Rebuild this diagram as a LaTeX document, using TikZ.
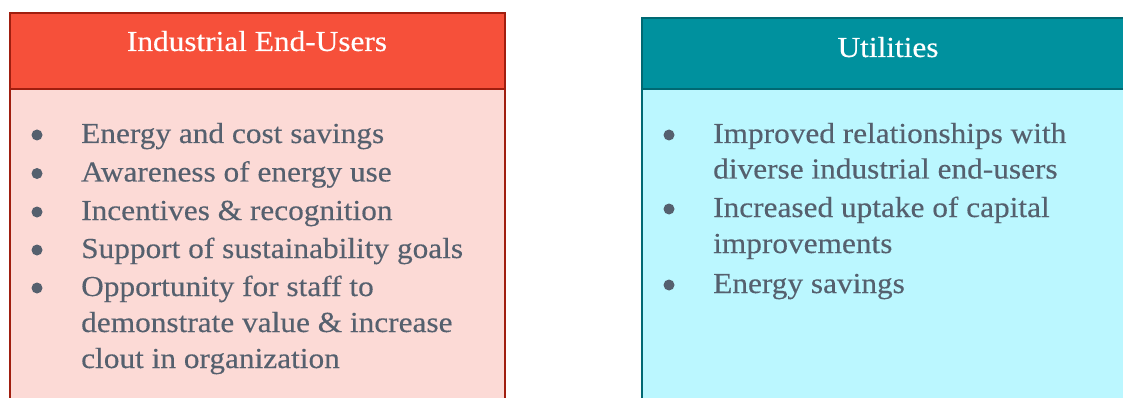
\documentclass[tikz,border=0pt]{standalone}
\usepackage{fontspec}
\setmainfont{Liberation Serif}[FakeStretch=1.08, FakeBold=0.3]
\definecolor{redhead}{RGB}{246,80,58}
\definecolor{redline}{RGB}{160,30,15}
\definecolor{redbody}{RGB}{252,218,214}
\definecolor{tealhead}{RGB}{0,145,158}
\definecolor{tealline}{RGB}{0,105,115}
\definecolor{tealbody}{RGB}{187,247,255}
\definecolor{txt}{RGB}{85,96,110}
\tikzset{
  boxpart/.style={draw, line width=2pt, anchor=north west, inner sep=0pt},
  headtxt/.style={text=white, anchor=base, inner sep=0pt, font=\fontsize{29}{34}\selectfont},
  item/.style={text=txt, anchor=base west, inner sep=0pt, font=\fontsize{29}{34}\selectfont},
  dot/.style={circle, fill=txt, inner sep=0pt, minimum size=11pt}
}
\begin{document}
\begin{tikzpicture}[x=1pt,y=-1pt]
\useasboundingbox (0,0) rectangle (1123,398);
\clip (0,0) rectangle (1123,398);
% left box
\node[boxpart, draw=redline, fill=redbody, minimum width=495pt, minimum height=330pt] (lbody) at (9,88) {};
\node[boxpart, draw=redline, fill=redhead, minimum width=495pt, minimum height=76pt] (lhead) at (9,12) {};
\node[headtxt] (ltitle) at (257,51) {Industrial End-Users};
% right box
\node[boxpart, draw=tealline, fill=tealbody, minimum width=495pt, minimum height=330pt] (rbody) at (641,88) {};
\node[boxpart, draw=tealline, fill=tealhead, minimum width=495pt, minimum height=71pt] (rhead) at (641,17) {};
\node[headtxt] (rtitle) at (888,57) {Utilities};
% left items
\node[dot] (lb1) at (37,135) {};
\node[item] (l1) at (81,143) {Energy and cost savings};
\node[dot] (lb2) at (37,173.5) {};
\node[item] (l2) at (81,181.5) {Awareness of energy use};
\node[dot] (lb3) at (37,212) {};
\node[item] (l3) at (81,220) {Incentives \& recognition};
\node[dot] (lb4) at (37,250) {};
\node[item] (l4) at (81,258) {Support of sustainability goals};
\node[dot] (lb5) at (37,288) {};
\node[item] (l5a) at (81,296) {Opportunity for staff to};
\node[item] (l5b) at (81,332) {demonstrate value \& increase};
\node[item] (l5c) at (81,368) {clout in organization};
% right items
\node[dot] (rb1) at (669,135) {};
\node[item] (r1a) at (713,143) {Improved relationships with};
\node[item] (r1b) at (713,178.5) {diverse industrial end-users};
\node[dot] (rb2) at (669,209) {};
\node[item] (r2a) at (713,217) {Increased uptake of capital};
\node[item] (r2b) at (713,253) {improvements};
\node[dot] (rb3) at (669,285) {};
\node[item] (r3) at (713,293) {Energy savings};
\end{tikzpicture}
\end{document}
